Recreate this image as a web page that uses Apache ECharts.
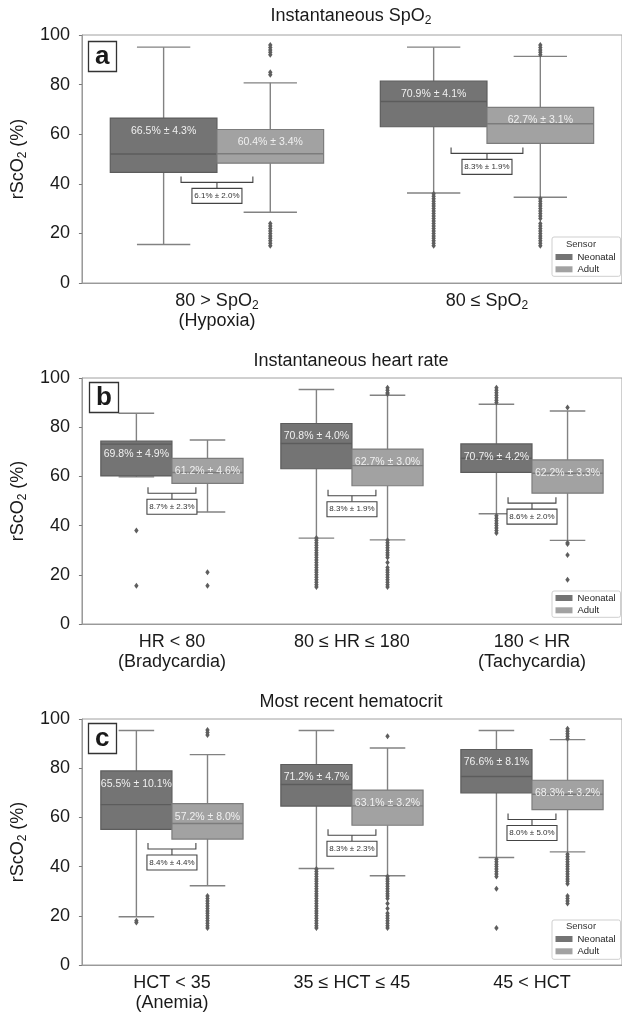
<!DOCTYPE html>
<html>
<head>
<meta charset="utf-8">
<script src="https://cdn.jsdelivr.net/npm/echarts@6/dist/echarts.min.js"></script>
<style>
html, body { margin: 0; padding: 0; background: #fff; }
#chart { width: 622px; height: 1015px; }
</style>
</head>
<body>
<div id="chart"></div>
<script>
// categories
const catsA = ['80 > SpO{s|2}\n(Hypoxia)', '80 ≤ SpO{s|2}'];
const catsB = ['HR < 80\n(Bradycardia)', '80 ≤ HR ≤ 180', '180 < HR\n(Tachycardia)'];
const catsC = ['HCT < 35\n(Anemia)', '35 ≤ HCT ≤ 45', '45 < HCT'];

// boxes: [category, low whisker, q1, median, q3, high whisker]
const neoA = [[0, 15.5, 44.6, 52.0, 66.5, 95.1], [1, 36.3, 63.0, 73.2, 81.4, 95.1]];
const adultA = [[0, 28.5, 48.3, 52.1, 61.9, 80.7], [1, 34.6, 56.3, 64.2, 70.8, 91.4]];
const neoB = [[0, 59.8, 60.2, 73.1, 74.3, 85.7], [1, 34.9, 63.1, 73.4, 81.5, 95.3], [2, 44.8, 61.6, 67.4, 73.2, 89.3]];
const adultB = [[0, 45.5, 57.2, 61.6, 67.3, 74.8], [1, 34.2, 56.2, 64.4, 71.1, 93.0], [2, 34.0, 53.2, 61.3, 66.7, 86.6]];
const neoC = [[0, 19.6, 55.1, 65.2, 78.9, 95.3], [1, 39.2, 64.6, 73.4, 81.5, 95.3], [2, 43.7, 70.0, 76.6, 87.6, 95.3]];
const adultC = [[0, 32.2, 51.2, 57.5, 65.6, 85.5], [1, 36.3, 56.8, 64.7, 71.1, 88.2], [2, 46.0, 63.2, 69.4, 75.1, 91.6]];

// outliers per category
const neoOutA = [[], [36, 35, 34, 33, 32, 31, 30, 29, 28, 27, 26, 25, 24, 23, 22, 21, 20, 19, 18, 17, 16, 15]];
const adultOutA = [
  [96, 95, 94, 93, 92, 85, 84, 24, 23, 22, 21, 20, 19, 18, 17, 16, 15],
  [96, 95, 94, 93, 92, 34, 33, 32, 31, 30, 29, 28, 27, 26, 24, 23, 22, 21, 20, 19, 18, 17, 16, 15]
];
const neoOutB = [
  [38, 15.5],
  [35, 34, 33, 32, 31, 30, 29, 28, 27, 26, 25, 24, 23, 22, 21, 20, 19, 18, 17, 16, 15],
  [96, 95, 94, 93, 92, 91, 90, 44, 43, 42, 41, 40, 39, 38, 37]
];
const adultOutB = [
  [21, 15.5],
  [96, 95, 94, 93.5, 34, 33, 32, 31, 30, 29, 28, 27, 25, 23, 22, 21, 20, 19, 18, 17, 16, 15],
  [88, 33, 32.5, 28, 18]
];
const neoOutC = [
  [18, 17.3],
  [39, 38, 37, 36, 35, 34, 33, 32, 31, 30, 29, 28, 27, 26, 25, 24, 23, 22, 21, 20, 19, 18, 17, 16, 15],
  [43, 42, 41, 40, 39, 38, 37, 36, 31, 15]
];
const adultOutC = [
  [95.5, 94.5, 93.5, 28, 27, 26, 25, 24, 23, 22, 21, 20, 19, 18, 17, 16, 15],
  [93, 36, 35, 34, 33, 32, 31, 30, 29, 28, 27, 25, 23, 21, 20, 19, 18, 17, 16, 15],
  [96, 95, 94, 93, 92, 45, 44, 43, 42, 41, 40, 39, 38, 37, 36, 35, 34, 33, 28, 27, 26, 25]
];

// text labels
const neoLabA = ['66.5% ± 4.3%', '70.9% ± 4.1%'];
const adultLabA = ['60.4% ± 3.4%', '62.7% ± 3.1%'];
const diffLabA = ['6.1% ± 2.0%', '8.3% ± 1.9%'];
const neoLabB = ['69.8% ± 4.9%', '70.8% ± 4.0%', '70.7% ± 4.2%'];
const adultLabB = ['61.2% ± 4.6%', '62.7% ± 3.0%', '62.2% ± 3.3%'];
const diffLabB = ['8.7% ± 2.3%', '8.3% ± 1.9%', '8.6% ± 2.0%'];
const neoLabC = ['65.5% ± 10.1%', '71.2% ± 4.7%', '76.6% ± 8.1%'];
const adultLabC = ['57.2% ± 8.0%', '63.1% ± 3.2%', '68.3% ± 3.2%'];
const diffLabC = ['8.4% ± 4.4%', '8.3% ± 2.3%', '8.0% ± 5.0%'];

const FONT = '"Liberation Sans", Arial, sans-serif';
const TEXT = '#1a1a1a';
const NEO_FILL = '#747474', NEO_EDGE = '#5c5c5c';
const ADULT_FILL = '#a2a2a2', ADULT_EDGE = '#7c7c7c';
const WHISKER = '#828282';
const subStyle = { fontSize: 12, lineHeight: 11, padding: [9, 0, 0, 0], color: TEXT, fontFamily: FONT };

const chart = echarts.init(document.getElementById('chart'));

function boxItem(side, labels) {
  return function (params, api) {
    const cat = api.value(0);
    const c = api.coord([cat, 0])[0];
    const w = api.size([1, 0])[0] * 0.395;
    const x0 = side === 0 ? c - w : c;
    const xm = x0 + w / 2;
    const yv = i => api.coord([cat, api.value(i)])[1];
    const low = yv(1), q1 = yv(2), med = yv(3), q3 = yv(4), high = yv(5);
    const fill = side === 0 ? NEO_FILL : ADULT_FILL;
    const edge = side === 0 ? NEO_EDGE : ADULT_EDGE;
    const ln = (x1, y1, x2, y2, color) => ({
      type: 'line', shape: { x1, y1, x2, y2 }, style: { stroke: color, lineWidth: 1.4 }
    });
    return {
      type: 'group',
      children: [
        ln(xm, high, xm, q3, WHISKER),
        ln(xm, q1, xm, low, WHISKER),
        ln(x0 + w / 4, high, x0 + 3 * w / 4, high, WHISKER),
        ln(x0 + w / 4, low, x0 + 3 * w / 4, low, WHISKER),
        { type: 'rect', shape: { x: x0, y: q3, width: w, height: q1 - q3 }, style: { fill, stroke: edge, lineWidth: 1.2 } },
        ln(x0, med, x0 + w, med, edge),
        {
          type: 'text', x: xm, y: q3 + 13,
          style: { text: labels[params.dataIndex], fill: '#f0f0f0', font: '10.5px ' + FONT, textAlign: 'center', textVerticalAlign: 'middle' }
        }
      ]
    };
  };
}

function outlierItem(side) {
  return function (params, api) {
    const cat = api.value(0);
    const c = api.coord([cat, 0])[0];
    const w = api.size([1, 0])[0] * 0.395;
    const x = side === 0 ? c - w / 2 : c + w / 2;
    const y = api.coord([cat, api.value(1)])[1];
    return {
      type: 'polygon',
      shape: { points: [[x, y - 3], [x + 2.2, y], [x, y + 3], [x - 2.2, y]] },
      style: { fill: '#5e5e5e' }
    };
  };
}

function diffItem(labels) {
  return function (params, api) {
    const cat = api.value(0);
    const c = api.coord([cat, 0])[0];
    const hw = api.size([1, 0])[0] * 0.133;
    const tip = api.coord([cat, api.value(1)])[1] + 4;
    return {
      type: 'group',
      children: [
        { type: 'polyline', shape: { points: [[c - hw, tip], [c - hw, tip + 6], [c + hw, tip + 6], [c + hw, tip]] }, style: { stroke: '#444', lineWidth: 1.1, fill: null } },
        { type: 'line', shape: { x1: c, y1: tip + 6, x2: c, y2: tip + 12 }, style: { stroke: '#444', lineWidth: 1.1 } },
        { type: 'rect', shape: { x: c - 25, y: tip + 12, width: 50, height: 15 }, style: { fill: '#fff', stroke: '#444', lineWidth: 1.1 } },
        {
          type: 'text', x: c, y: tip + 19.5,
          style: { text: labels[params.dataIndex], fill: '#333', font: '8px ' + FONT, textAlign: 'center', textVerticalAlign: 'middle' }
        }
      ]
    };
  };
}

function toPoints(groups) {
  const out = [];
  groups.forEach((vals, cat) => vals.forEach(v => out.push([cat, v])));
  return out;
}

function panelSeries(p, neo, adult, neoOut, adultOut, neoLab, adultLab, diffLab) {
  const base = { type: 'custom', xAxisIndex: p, yAxisIndex: p, silent: true };
  const minQ1 = neo.map((r, i) => [r[0], Math.min(r[2], adult[i][2])]);
  return [
    { ...base, name: 'Neonatal', itemStyle: { color: NEO_FILL }, z: 2, renderItem: boxItem(0, neoLab), data: neo },
    { ...base, name: 'Adult', itemStyle: { color: ADULT_FILL }, z: 3, renderItem: boxItem(1, adultLab), data: adult },
    { ...base, name: 'Neonatal', itemStyle: { color: NEO_FILL }, z: 4, renderItem: outlierItem(0), data: toPoints(neoOut) },
    { ...base, name: 'Adult', itemStyle: { color: ADULT_FILL }, z: 4, renderItem: outlierItem(1), data: toPoints(adultOut) },
    { ...base, name: 'diff', z: 5, renderItem: diffItem(diffLab), data: minQ1 }
  ];
}

function xAxis(p, cats) {
  return {
    type: 'category', gridIndex: p, data: cats,
    axisLine: { lineStyle: { color: '#9a9a9a', width: 1 } },
    axisTick: { alignWithLabel: true, length: 4, lineStyle: { color: '#777' } },
    axisLabel: { fontSize: 18, color: TEXT, fontFamily: FONT, lineHeight: 20, margin: 8, rich: { s: subStyle } },
    splitLine: { show: false }
  };
}

function yAxis(p) {
  return {
    type: 'value', gridIndex: p, min: 0, max: 100, interval: 20,
    name: 'rScO{s|2} (%)', nameLocation: 'middle', nameGap: 46, nameRotate: 90,
    nameTextStyle: { fontSize: 18, color: TEXT, fontFamily: FONT, rich: { s: subStyle } },
    axisLine: { show: true, lineStyle: { color: '#9a9a9a', width: 1 } },
    axisTick: { show: true, length: 3, lineStyle: { color: '#777' } },
    axisLabel: { fontSize: 18, color: TEXT, fontFamily: FONT, margin: 12 },
    splitLine: { show: false }
  };
}

function panelTitle(text, top) {
  return {
    text, left: 351, top, textAlign: 'center', padding: 0,
    textStyle: { fontSize: 18, fontWeight: 'normal', color: TEXT, fontFamily: FONT, rich: { s: subStyle } }
  };
}

function letter(text, left, top) {
  return {
    text, left, top, padding: [3, 7, 2, 7], borderColor: '#333', borderWidth: 1.3,
    textStyle: { fontSize: 26, fontWeight: 'bold', color: TEXT, fontFamily: FONT }
  };
}

function sensorTitle(top) {
  return {
    text: 'Sensor', left: 581, top, textAlign: 'center', padding: 0,
    textStyle: { fontSize: 9.5, fontWeight: 'normal', color: '#333', fontFamily: FONT }
  };
}

function legend(top, padding) {
  return {
    left: 552, top, orient: 'vertical', padding, itemGap: 2.3,
    itemWidth: 17, itemHeight: 6, icon: 'rect', selectedMode: false,
    borderColor: '#cfcfcf', borderWidth: 1, borderRadius: 2, backgroundColor: '#fff',
    textStyle: { fontSize: 9.5, color: '#222', fontFamily: FONT },
    data: ['Neonatal', 'Adult']
  };
}

const option = {
  animation: false,
  backgroundColor: '#fff',
  title: [
    panelTitle('Instantaneous SpO{s|2}', 7),
    panelTitle('Instantaneous heart rate', 352),
    panelTitle('Most recent hematocrit', 693),
    letter('a', 88, 41),
    letter('b', 89, 382),
    letter('c', 88, 723),
    sensorTitle(239),
    sensorTitle(921)
  ],
  legend: [
    legend(237, [15, 5, 2, 3.5]),
    legend(591, [2, 5, 2, 3.5]),
    legend(920, [14, 5, 3, 3.5])
  ],
  grid: [
    { left: 81, top: 35, width: 542, height: 248, show: true, borderColor: '#a0a0a0', borderWidth: 1 },
    { left: 81, top: 378, width: 542, height: 246, show: true, borderColor: '#a0a0a0', borderWidth: 1 },
    { left: 81, top: 719, width: 542, height: 246, show: true, borderColor: '#a0a0a0', borderWidth: 1 }
  ],
  xAxis: [xAxis(0, catsA), xAxis(1, catsB), xAxis(2, catsC)],
  yAxis: [yAxis(0), yAxis(1), yAxis(2)],
  series: [
    ...panelSeries(0, neoA, adultA, neoOutA, adultOutA, neoLabA, adultLabA, diffLabA),
    ...panelSeries(1, neoB, adultB, neoOutB, adultOutB, neoLabB, adultLabB, diffLabB),
    ...panelSeries(2, neoC, adultC, neoOutC, adultOutC, neoLabC, adultLabC, diffLabC)
  ]
};

chart.setOption(option);
</script>
</body>
</html>
